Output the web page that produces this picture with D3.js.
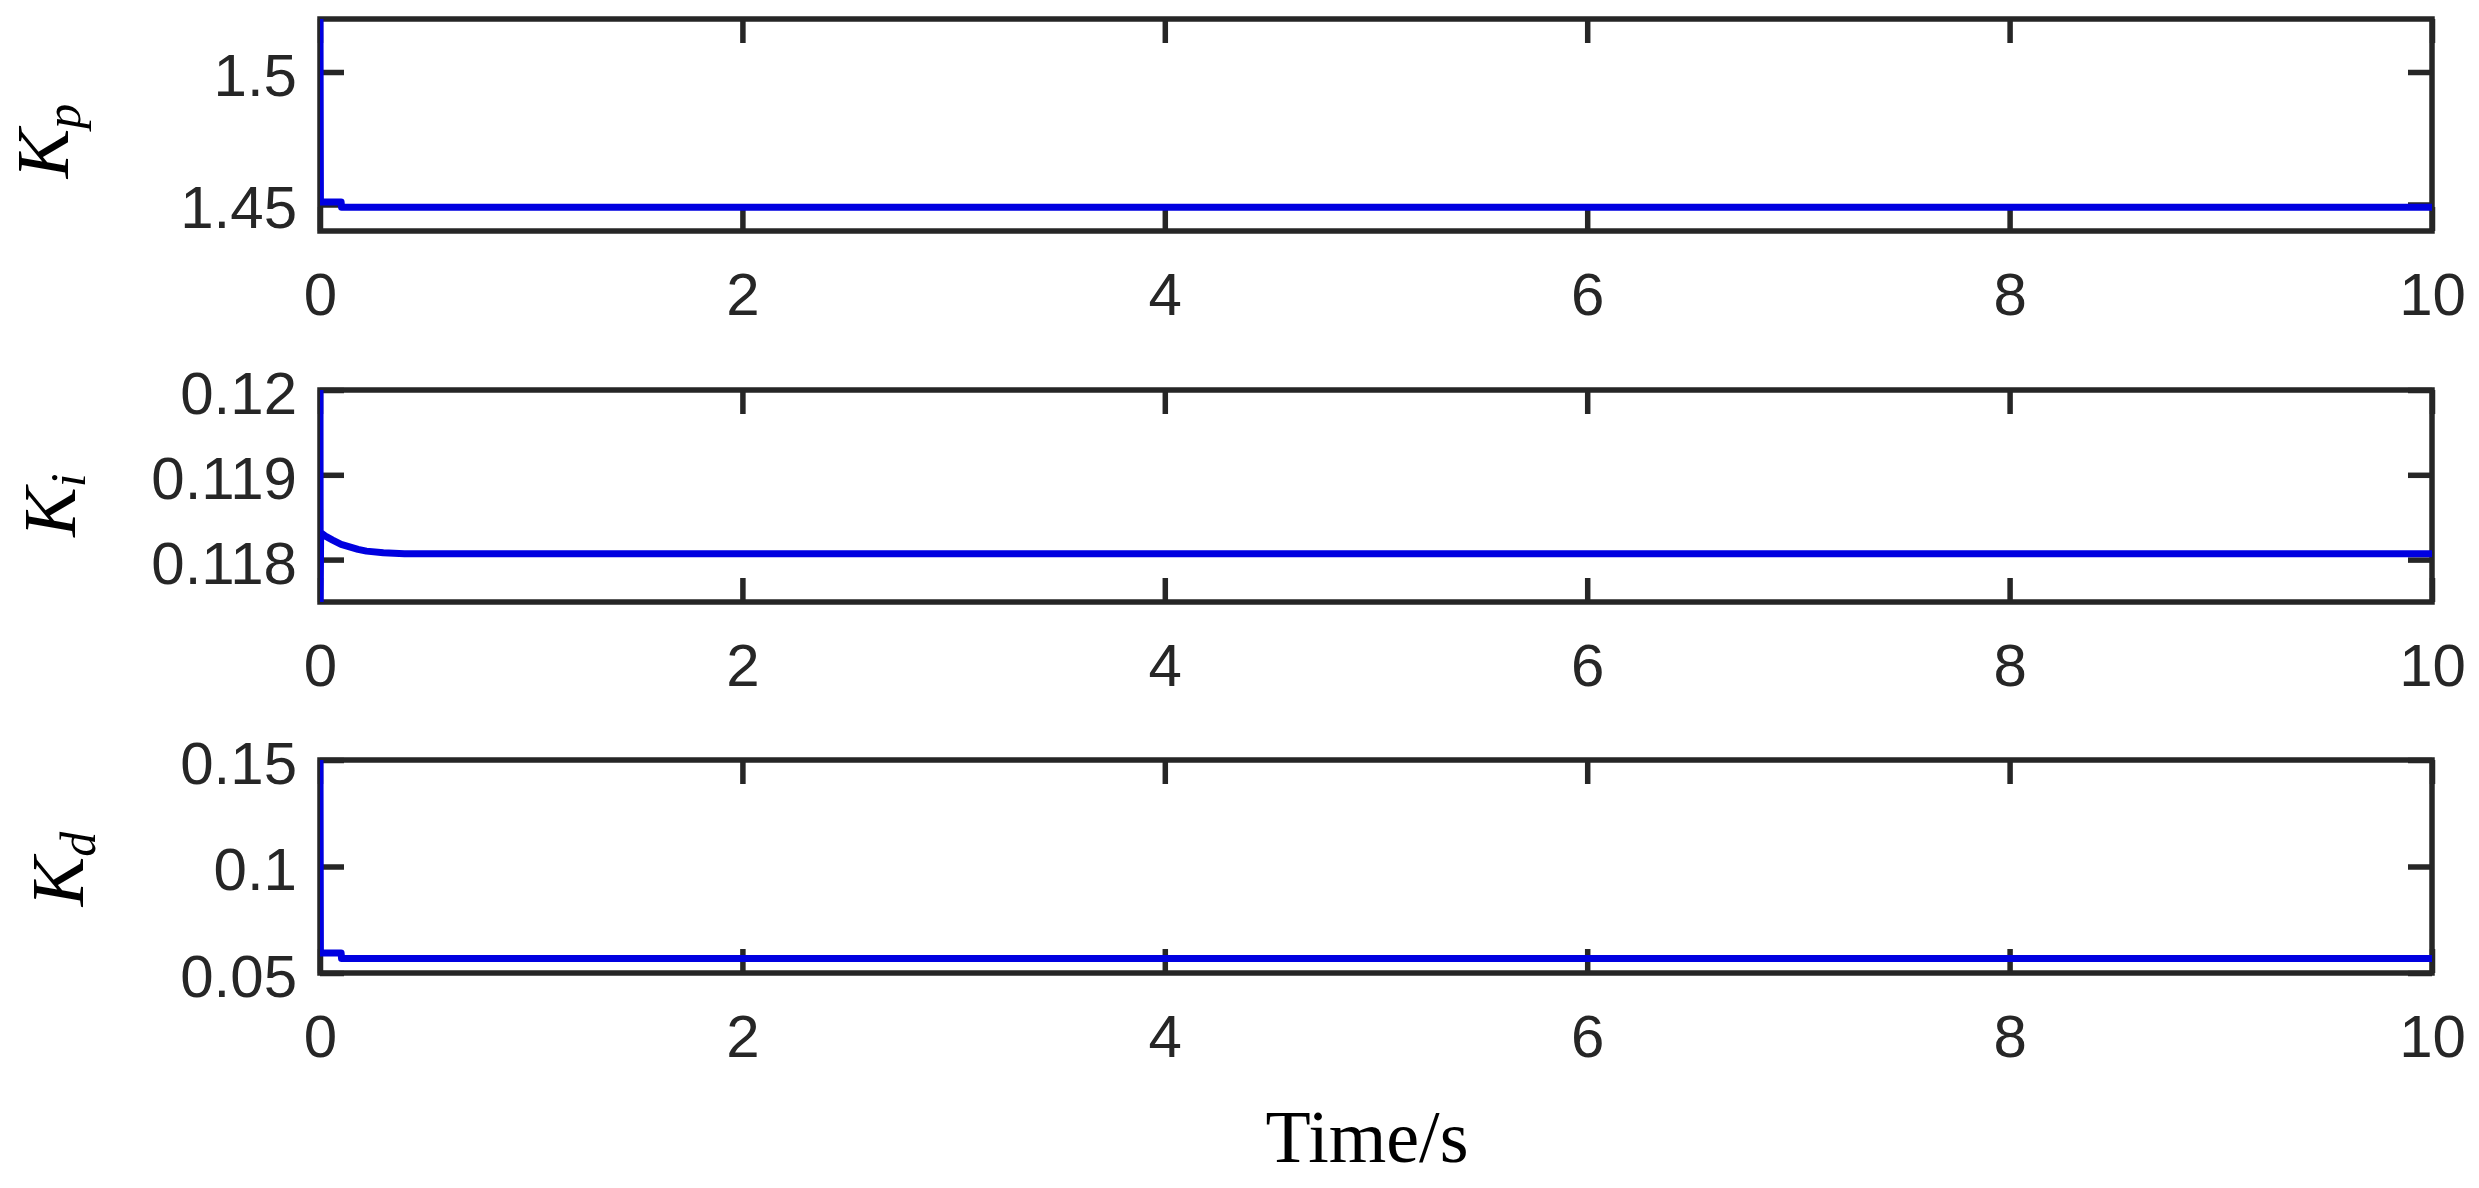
<!DOCTYPE html>
<html>
<head>
<meta charset="utf-8">
<script src="https://cdn.jsdelivr.net/npm/d3@7"></script>
<style>
  html, body { margin: 0; padding: 0; background: #ffffff; }
  svg { display: block; }
</style>
</head>
<body>
<svg id="chart" width="2479" height="1188"></svg>
<script>
// ---------- data ----------
const xTicks = [0, 2, 4, 6, 8, 10];

const timeKp = [0, 0.002, 0.1, 0.102, 10];
const valuesKp = [1.52, 1.4509, 1.4509, 1.4490, 1.4490];
const ticksKp = [1.45, 1.5];
const domainKp = [1.44, 1.52];

const timeKi = [0, 0.001, 0.003, 0.03, 0.06, 0.1, 0.14, 0.18, 0.22, 0.3, 0.4, 10];
const valuesKi = [0.12, 0.1175, 0.11832, 0.11827, 0.11823, 0.11818, 0.11815, 0.11812, 0.1181, 0.11808, 0.11807, 0.11807];
const ticksKi = [0.118, 0.119, 0.12];
const domainKi = [0.1175, 0.12];

const timeKd = [0, 0.002, 0.1, 0.102, 10];
const valuesKd = [0.15, 0.0594, 0.0594, 0.0568, 0.0568];
const ticksKd = [0.05, 0.1, 0.15];
const domainKd = [0.05, 0.15];

const labelMain = ["K", "K", "K"];
const labelSub = ["p", "i", "d"];
const xLabel = "Time/s";

// ---------- layout ----------
const svg = d3.select("#chart");
const left = 320, right = 2432;
const panels = [
  { top: 19,  bottom: 231, t: timeKp, v: valuesKp, ticks: ticksKp, domain: domainKp, lx: 68, ly: 141, sub: 12 },
  { top: 390, bottom: 602, t: timeKi, v: valuesKi, ticks: ticksKi, domain: domainKi, lx: 75, ly: 505, sub: 10 },
  { top: 760, bottom: 973, t: timeKd, v: valuesKd, ticks: ticksKd, domain: domainKd, lx: 83, ly: 869, sub: 12 }
];

const axisColor = "#262626";
const lineColor = "#0000e0";
const sw = 5.5;
const tickLen = 24;
const tickFont = "'Liberation Sans', Arial, Helvetica, sans-serif";
const serifFont = "'Liberation Serif', 'Times New Roman', Times, serif";

const x = d3.scaleLinear().domain([0, 10]).range([left, right]);

panels.forEach((p, i) => {
  const y = d3.scaleLinear().domain(p.domain).range([p.bottom, p.top]);
  const g = svg.append("g");

  // clip
  const clipId = "clip" + i;
  svg.append("clipPath").attr("id", clipId)
    .append("rect").attr("x", left).attr("y", p.top)
    .attr("width", right - left).attr("height", p.bottom - p.top);

  // bottom axis (labels)
  const gb = g.append("g").attr("transform", `translate(0,${p.bottom})`)
    .call(d3.axisBottom(x).tickValues(xTicks).tickSize(-tickLen).tickPadding(41).tickFormat(d => String(d)));
  // top axis (ticks only)
  const gt = g.append("g").attr("transform", `translate(0,${p.top})`)
    .call(d3.axisTop(x).tickValues(xTicks).tickSize(-tickLen).tickFormat(""));
  // left axis (labels)
  const gl = g.append("g").attr("transform", `translate(${left},0)`)
    .call(d3.axisLeft(y).tickValues(p.ticks).tickSize(-tickLen).tickPadding(23).tickFormat(d => String(d)));
  // right axis (ticks only)
  const gr = g.append("g").attr("transform", `translate(${right},0)`)
    .call(d3.axisRight(y).tickValues(p.ticks).tickSize(-tickLen).tickFormat(""));

  [gb, gt, gl, gr].forEach(a => {
    a.select(".domain").remove();
    a.selectAll(".tick line").attr("stroke", axisColor).attr("stroke-width", sw);
    a.selectAll(".tick text")
      .attr("fill", axisColor)
      .style("font-family", tickFont)
      .style("font-size", "60px");
  });
  gl.selectAll(".tick text").attr("dy", "0.39em");

  // box
  g.append("rect")
    .attr("x", left).attr("y", p.top)
    .attr("width", right - left).attr("height", p.bottom - p.top)
    .attr("fill", "none").attr("stroke", axisColor).attr("stroke-width", sw)
    .attr("stroke-linejoin", "miter");

  // data line
  const data = p.t.map((t, k) => [t, p.v[k]]);
  g.append("path")
    .datum(data)
    .attr("clip-path", `url(#${clipId})`)
    .attr("fill", "none")
    .attr("stroke", lineColor)
    .attr("stroke-width", 7)
    .attr("stroke-linejoin", "round")
    .attr("d", d3.line().x(d => x(d[0])).y(d => y(d[1])));

  // y label
  const txt = svg.append("text")
    .attr("transform", `translate(${p.lx},${p.ly}) rotate(-90)`)
    .attr("text-anchor", "middle")
    .style("font-family", serifFont)
    .style("font-style", "italic")
    .style("font-size", "74px")
    .attr("fill", "#000");
  txt.append("tspan").text(labelMain[i]);
  txt.append("tspan").attr("dy", p.sub).style("font-size", "50px").text(labelSub[i]);
});

// x label
svg.append("text")
  .attr("x", 1367).attr("y", 1162)
  .attr("text-anchor", "middle")
  .style("font-family", serifFont)
  .style("font-size", "74px")
  .attr("fill", "#000")
  .text(xLabel);
</script>
</body>
</html>
